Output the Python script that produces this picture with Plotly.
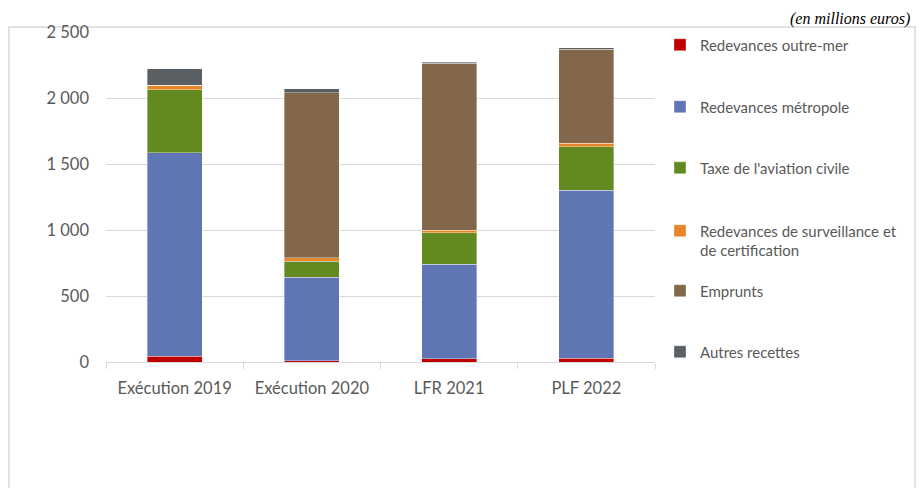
from plotly import graph_objects as go

categories = ["Exécution 2019", "Exécution 2020", "LFR 2021", "PLF 2022"]

outre_mer = [45, 10, 23, 28]
metropole = [1540, 632, 717, 1273]
taxe_aviation = [477, 121, 240, 328]
surveillance = [33, 25, 20, 30]
emprunts = [0, 1250, 1263, 710]
autres = [126, 33, 7, 10]

series = [
    ("Redevances outre-mer", outre_mer, "#C00000"),
    ("Redevances métropole", metropole, "#6076B4"),
    ("Taxe de l'aviation civile", taxe_aviation, "#638A20"),
    ("Redevances de surveillance et<br>de certification", surveillance, "#E6862A"),
    ("Emprunts", emprunts, "#83674A"),
    ("Autres recettes", autres, "#595F63"),
]

# vertical centre of each legend entry (paper coords, Excel-like even spacing)
legend_y = [0.9606, 0.7727, 0.5879, 0.3682, 0.2152, 0.0303]

font_family = "Lato, 'Open Sans', sans-serif"
text_color = "#595959"

fig = go.Figure()
legends = {}
for i, (name, values, color) in enumerate(series):
    key = "legend" if i == 0 else f"legend{i + 1}"
    fig.add_trace(
        go.Bar(
            x=categories,
            y=values,
            name=name,
            marker_color=color,
            marker_line=dict(color="rgba(255,255,255,0.6)", width=0.6),
            legend=key,
        )
    )
    legends[key] = dict(
        x=1.0091, xanchor="left",
        y=legend_y[i], yanchor="middle",
        font=dict(family=font_family, size=15, color=text_color),
        itemwidth=30,
        valign="top",
        bgcolor="rgba(0,0,0,0)",
    )

# page body adds an 8px margin: keep figure inside the window so no scrollbars
fig.update_layout(
    barmode="stack",
    bargap=0.6,
    width=908,
    height=480,
    plot_bgcolor="#FFFFFF",
    paper_bgcolor="#FFFFFF",
    separators=", ",
    font=dict(family=font_family, size=16.5, color=text_color),
    margin=dict(l=98, r=261, t=24, b=126, pad=0),
    showlegend=True,
    **legends,
)

fig.update_xaxes(
    showgrid=False,
    showline=True,
    linecolor="#D9D9D9",
    linewidth=1,
    ticks="outside",
    tickson="boundaries",
    ticklen=6,
    tickcolor="#D9D9D9",
    ticklabelstandoff=11,
    tickfont=dict(size=16.5, color=text_color),
)

fig.update_yaxes(
    range=[0, 2500],
    dtick=500,
    showgrid=True,
    gridcolor="#D9D9D9",
    gridwidth=1,
    zeroline=False,
    tickformat=",d",
    ticklabelstandoff=16,
    tickfont=dict(size=16.5, color=text_color),
)

# chart border
fig.add_shape(
    type="rect", xref="paper", yref="paper",
    x0=-0.1767, x1=1.4736, y0=-0.5, y1=1.0152,
    line=dict(color="#D9D9D9", width=1.5),
    fillcolor="rgba(0,0,0,0)",
    layer="below",
)

fig.add_annotation(
    text="(en millions euros)",
    xref="paper", yref="paper",
    x=1.468, y=1.0727,
    xanchor="right", yanchor="top",
    showarrow=False,
    font=dict(family="'Liberation Serif', serif", size=16, color="#000000", style="italic"),
)

fig.write_html("out.html")
